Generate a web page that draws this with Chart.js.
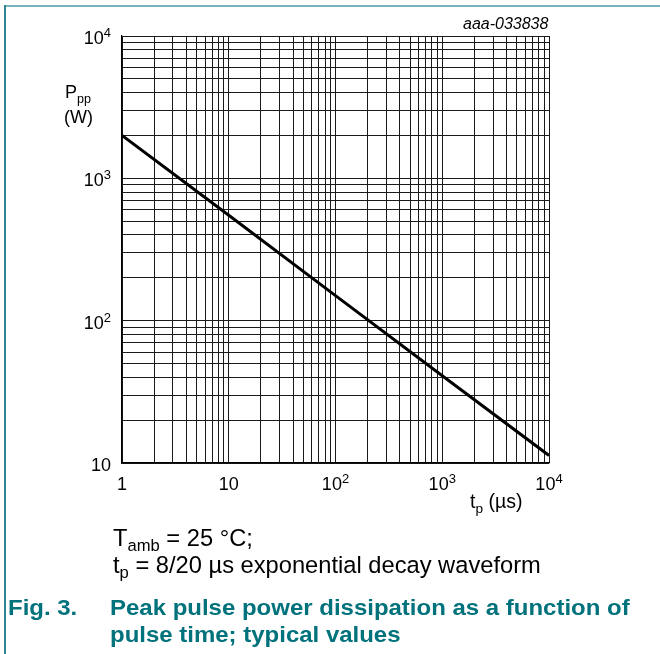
<!DOCTYPE html>
<html>
<head>
<meta charset="utf-8">
<script src="https://cdn.jsdelivr.net/npm/chart.js@4/dist/chart.umd.min.js"></script>
<style>
  html, body { margin: 0; padding: 0; background: #fff; }
  body { width: 660px; height: 654px; position: relative; overflow: hidden;
         font-family: "Liberation Sans", Arial, sans-serif; color: #000; }
  #frame-top { position: absolute; left: 5px; top: 5px; width: 655px; height: 2px; background: #79b4bd; }
  #frame-left { position: absolute; left: 4px; top: 5px; width: 2px; height: 649px; background: #2e8791; }
  #wrap { position: absolute; left: 0; top: 0; width: 660px; height: 654px; }
  .lbl { position: absolute; white-space: nowrap; font-size: 18px; line-height: 1; }
  .lbl sup { font-size: 13px; vertical-align: 0; position: relative; top: -7px; }
  .lbl sub, .note sub { font-size: 70%; vertical-align: 0; position: relative; top: 5px; }
  .note { position: absolute; left: 113px; font-size: 23.7px; white-space: nowrap; line-height: 1; }
  .cap { position: absolute; font-size: 22px; font-weight: bold; color: #00727c; white-space: nowrap;
         line-height: 1; transform: scaleX(1.09); transform-origin: 0 0; }
</style>
</head>
<body>
<div id="frame-top"></div>
<div id="frame-left"></div>
<div id="wrap"><canvas id="chart" width="660" height="654"></canvas></div>

<div class="lbl" style="left:463px; top:16px; font-size:16px; font-style:italic;">aaa-033838</div>
<div class="lbl" style="left:65px; top:83px;">P<sub>pp</sub></div>
<div class="lbl" style="left:64px; top:108px;">(W)</div>
<div class="lbl" style="left:470px; top:492px; font-size:19.5px;">t<sub>p</sub> (µs)</div>

<div class="note" style="top:527px;">T<sub>amb</sub> = 25 °C;</div>
<div class="note" style="top:554px;">t<sub>p</sub> = 8/20 µs exponential decay waveform</div>

<div class="cap" style="left:8px; top:597px;">Fig. 3.</div>
<div class="cap" style="left:110px; top:597px;">Peak pulse power dissipation as a function of</div>
<div class="cap" style="left:110px; top:624px;">pulse time; typical values</div>

<script>
// pulse time tp (µs) and peak pulse power Ppp (W)
const pulseTime = [1, 10, 100, 1000, 10000];
const peakPower = [2000, 550, 150, 41, 11.3];

// major tick values and their labels [base, exponent]
const xTicks = [1, 10, 100, 1000, 10000];
const xTickLabels = [['1', ''], ['10', ''], ['10', '2'], ['10', '3'], ['10', '4']];
const yTicks = [10, 100, 1000, 10000];
const yTickLabels = [['10', ''], ['10', '2'], ['10', '3'], ['10', '4']];

// grid lines at 1..9 of every decade
function decadeGrid(min, max) {
  const out = [];
  for (let d = min; d < max; d *= 10) {
    for (let k = 1; k < 10; k++) out.push({ value: d * k });
  }
  out.push({ value: max });
  return out;
}

function labelHtml(l) {
  return l[0] + (l[1] ? '<sup>' + l[1] + '</sup>' : '');
}

const tickLabels = {
  id: 'tickLabels',
  afterDraw(chart) {
    if (chart._labelsDone) return;
    chart._labelsDone = true;
    const xs = chart.scales.x, ys = chart.scales.y;
    xTicks.forEach((v, i) => {
      const el = document.createElement('div');
      el.className = 'lbl';
      el.innerHTML = labelHtml(xTickLabels[i]);
      el.style.left = xs.getPixelForValue(v) + 'px';
      el.style.top = (xs.bottom + 12) + 'px';
      el.style.transform = 'translateX(-50%)';
      document.body.appendChild(el);
    });
    yTicks.forEach((v, i) => {
      const el = document.createElement('div');
      el.className = 'lbl';
      el.innerHTML = labelHtml(yTickLabels[i]);
      el.style.right = (660 - ys.left + 11) + 'px';
      el.style.top = (ys.getPixelForValue(v) - 7) + 'px';
      document.body.appendChild(el);
    });
  }
};

new Chart(document.getElementById('chart'), {
  type: 'line',
  data: {
    datasets: [{
      data: pulseTime.map((t, i) => ({ x: t, y: peakPower[i] })),
      borderColor: '#000',
      borderWidth: 3,
      pointRadius: 0,
      fill: false,
      tension: 0
    }]
  },
  options: {
    responsive: false,
    animation: false,
    events: [],
    layout: { padding: { left: 122, right: 111, top: 36, bottom: 191 } },
    plugins: { legend: { display: false }, tooltip: { enabled: false } },
    scales: {
      x: {
        type: 'logarithmic', min: 1, max: 10000,
        afterBuildTicks: s => { s.ticks = decadeGrid(1, 10000); },
        ticks: { display: false },
        grid: { color: '#1a1a1a', lineWidth: 1, drawTicks: false },
        border: { display: true, color: '#000', width: 1.2 }
      },
      y: {
        type: 'logarithmic', min: 10, max: 10000,
        afterBuildTicks: s => { s.ticks = decadeGrid(10, 10000); },
        ticks: { display: false },
        grid: { color: '#1a1a1a', lineWidth: 1, drawTicks: false },
        border: { display: true, color: '#000', width: 1.2 }
      }
    }
  },
  plugins: [tickLabels]
});
</script>
</body>
</html>
